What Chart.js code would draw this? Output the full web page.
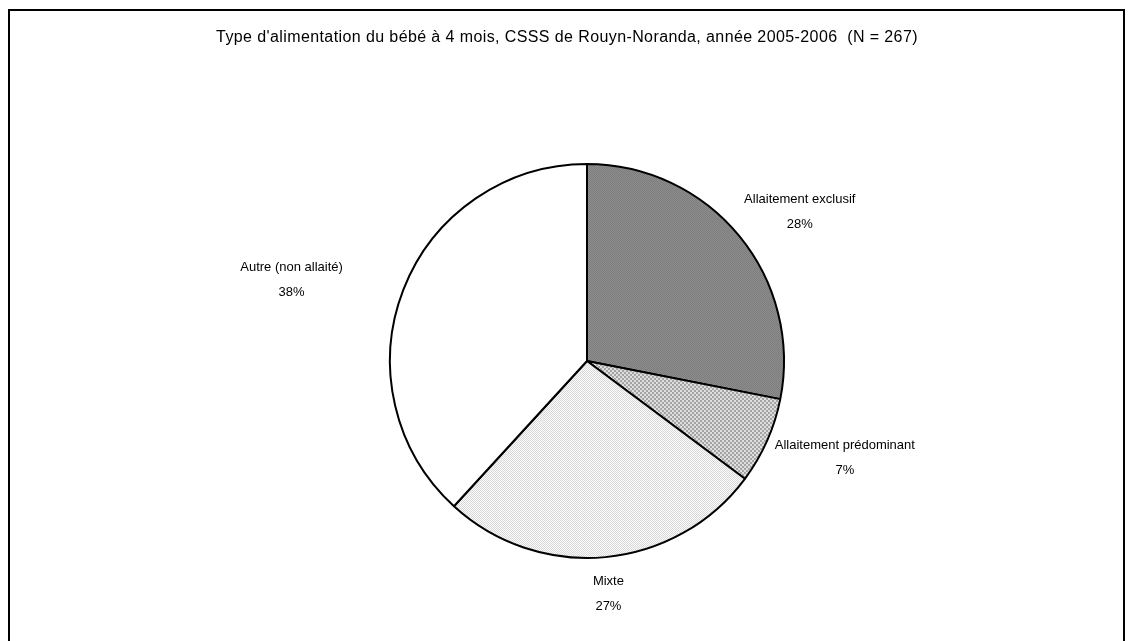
<!DOCTYPE html>
<html>
<head>
<meta charset="utf-8">
<script src="https://cdn.jsdelivr.net/npm/chart.js@4/dist/chart.umd.min.js"></script>
<style>
  html,body{margin:0;padding:0;background:#fff;}
  #wrap{position:relative;width:1133px;height:641px;overflow:hidden;}
  #frame{position:absolute;left:8px;top:9px;width:1117px;height:700px;border:2px solid #000;box-sizing:border-box;}
  canvas{position:absolute;left:0;top:0;}
</style>
</head>
<body>
<div id="wrap">
  <div id="frame"></div>
  <canvas id="c" width="1133" height="641"></canvas>
</div>
<script>
const title = "Type d'alimentation du bébé à 4 mois, CSSS de Rouyn-Noranda, année 2005-2006  (N = 267)";
const categories = ["Allaitement exclusif", "Allaitement prédominant", "Mixte", "Autre (non allaité)"];
const values = [28.1, 7.1, 26.6, 38.2];

function makePattern(cells, size) {
  const c = document.createElement('canvas');
  c.width = size; c.height = size;
  const g = c.getContext('2d');
  const n = cells.length, cs = size / n;
  for (let r = 0; r < n; r++) for (let k = 0; k < n; k++) {
    g.fillStyle = cells[r][k];
    g.fillRect(k * cs, r * cs, cs, cs);
  }
  return g.createPattern(c, 'repeat');
}
const fills = [
  makePattern([['#7c7c7c', '#8e8e8e'], ['#8e8e8e', '#7c7c7c']], 2),
  makePattern([['#a4a4a4', '#dedede'], ['#dedede', '#a4a4a4']], 4),
  makePattern([['#d8d8d8', '#fbfbfb'], ['#fbfbfb', '#d8d8d8']], 2),
  '#ffffff'
];

const labelPlugin = {
  id: 'outLabels',
  afterDraw(chart, args, opts) {
    const g = chart.ctx;
    g.save();
    g.fillStyle = '#000';
    g.textAlign = 'center';
    g.textBaseline = 'middle';
    g.font = opts.titleFont;
    if ('letterSpacing' in g) g.letterSpacing = opts.titleSpacing;
    g.fillText(title, opts.titleX, opts.titleY);
    if ('letterSpacing' in g) g.letterSpacing = '0px';
    g.font = opts.font;
    const meta = chart.getDatasetMeta(0);
    const lineGap = opts.lineGap;
    meta.data.forEach((arc, i) => {
      const p = arc.getProps(['x', 'y', 'startAngle', 'endAngle', 'outerRadius'], true);
      const mid = (p.startAngle + p.endAngle) / 2;
      const dx = Math.cos(mid), dy = Math.sin(mid);
      const lines = [categories[i], Math.round(values[i]) + '%'];
      const w = Math.max(...lines.map(t => g.measureText(t).width));
      const h = 44;
      const R = p.outerRadius + 15;
      const nudge = opts.nudge[i] || [0, 0];
      const cx = p.x + dx * R + dx * w / 2 + nudge[0];
      const cy = p.y + dy * R + dy * h / 2 + nudge[1];
      g.fillText(lines[0], cx, cy - lineGap / 2);
      g.fillText(lines[1], cx, cy + lineGap / 2);
    });
    g.restore();
  }
};

new Chart(document.getElementById('c'), {
  type: 'pie',
  data: {
    labels: categories,
    datasets: [{
      data: values,
      backgroundColor: fills,
      borderColor: '#000',
      borderWidth: 2,
      hoverOffset: 0
    }]
  },
  options: {
    responsive: false,
    animation: false,
    devicePixelRatio: 1,
    layout: { padding: { top: 163, bottom: 82, left: 200, right: 159 } },
    plugins: {
      legend: { display: false },
      tooltip: { enabled: false },
      title: { display: false },
      outLabels: {
        font: '13px "Liberation Sans", Arial, sans-serif',
        titleFont: '16px "Liberation Sans", Arial, sans-serif',
        titleSpacing: '0.4px',
        titleX: 567, titleY: 38,
        lineGap: 25,
        nudge: [[6, 0], [0, 2], [0, 0], [-50, 4]]
      }
    }
  },
  plugins: [labelPlugin]
});
</script>
</body>
</html>
